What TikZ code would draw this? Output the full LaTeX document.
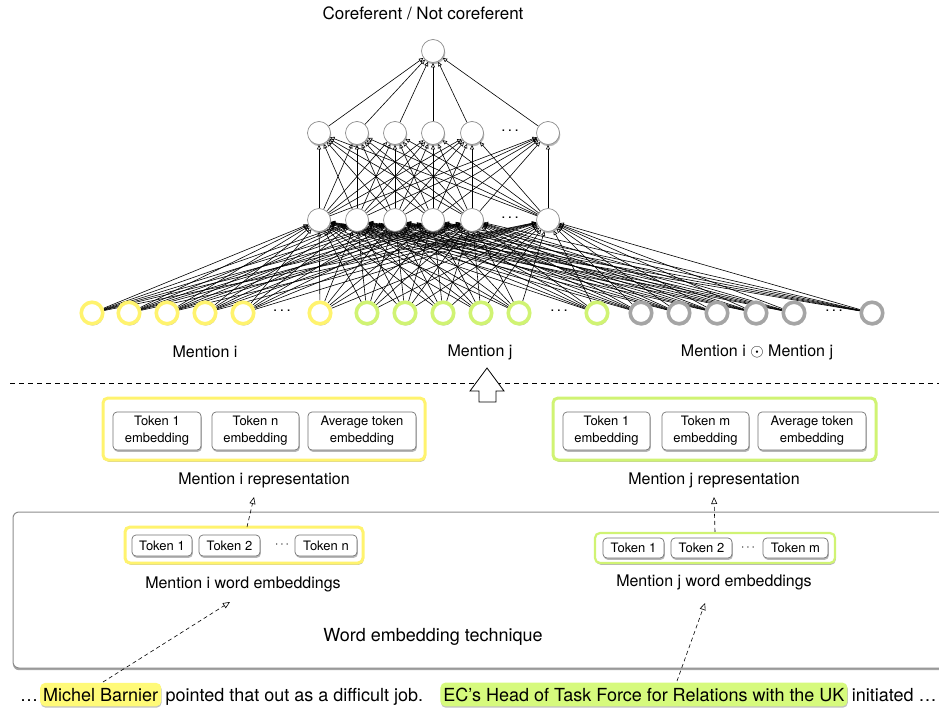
\documentclass[tikz,border=0pt]{standalone}
\usepackage{fontspec}
\setmainfont{TeX Gyre Heros}
\usetikzlibrary{arrows.meta,shadows,backgrounds}
\definecolor{ringyel}{RGB}{255,243,110}
\definecolor{ringgrn}{RGB}{208,243,115}
\definecolor{ringgry}{RGB}{165,165,165}
\definecolor{markyel}{RGB}{255,250,120}
\definecolor{markgrn}{RGB}{214,250,125}
\begin{document}
\begin{tikzpicture}[x=1pt,y=-1pt,
  softshadow/.style={drop shadow={shadow xshift=0.8pt,shadow yshift=-1.8pt,opacity=0.4,fill=black!70}},
  neuron/.style={circle,draw=black!45,fill=white,line width=0.7pt,minimum size=23pt,inner sep=0pt,softshadow},
  inp/.style={circle,fill=white,line width=3.6pt,minimum size=21.5pt,inner sep=0pt,softshadow},
  edge/.style={-{Triangle[open,length=4.5pt,width=4pt]},line width=0.6pt},
  lab/.style={font=\fontsize{16}{19}\selectfont},
  toplab/.style={font=\fontsize{17}{20}\selectfont},
  outerbox/.style={rectangle,rounded corners=5pt,line width=3pt,fill=white,inner sep=0pt,softshadow},
  tokbox/.style={rectangle,rounded corners=4pt,draw=black!55,line width=0.7pt,fill=white,inner sep=0pt,softshadow,align=center,font=\fontsize{13}{17}\selectfont},
  bigbox/.style={rectangle,rounded corners=6pt,draw=black!45,line width=1pt,fill=white,inner sep=0pt,
    drop shadow={shadow xshift=0pt,shadow yshift=-2.2pt,opacity=0.5,fill=black!70}},
  dasharrow/.style={dashed,dash pattern=on 4pt off 3pt,line width=0.6pt,-{Triangle[open,length=7pt,width=6pt]}},
  markbox/.style={rectangle,rounded corners=5pt,inner xsep=3pt,inner ysep=5pt,font=\fontsize{18}{21}\selectfont,
    drop shadow={shadow xshift=0.4pt,shadow yshift=-1.4pt,opacity=0.35,fill=black!70}},
  plain/.style={inner sep=0pt,font=\fontsize{18}{21}\selectfont},
  dots/.style={font=\fontsize{15}{18}\selectfont}
]
\useasboundingbox (0,0) rectangle (939,712);

% ---------- network ----------
\node[toplab] (title) at (423,13) {Coreferent / Not coreferent};
\node[neuron] (o) at (433,51) {};
\foreach \n/\x in {1/319,2/357,3/395,4/433,5/472,6/548} {
  \node[neuron] (q\n) at (\x,133) {};
  \node[neuron] (p\n) at (\x,220) {};
}
\node[dots] (qdots) at (510,131) {.\,.\,.};
\node[dots] (pdots) at (510,218) {.\,.\,.};

\foreach \n/\x in {1/92,2/129,3/167,4/205,5/243,6/320}
  \node[inp,draw=ringyel] (y\n) at (\x,313) {};
\foreach \n/\x in {1/367,2/405,3/443,4/481,5/519,6/597}
  \node[inp,draw=ringgrn] (g\n) at (\x,313) {};
\foreach \n/\x in {1/641,2/679,3/717,4/756,5/794,6/872}
  \node[inp,draw=ringgry] (r\n) at (\x,313) {};
\node[dots] (ydots) at (282,311) {.\,.\,.};
\node[dots] (gdots) at (559,311) {.\,.\,.};
\node[dots] (rdots) at (834,311) {.\,.\,.};

\begin{scope}[on background layer]
  \foreach \s in {y1,y2,y3,y4,y5,y6,g1,g2,g3,g4,g5,g6,r1,r2,r3,r4,r5,r6}
    \foreach \t in {p1,p2,p3,p4,p5,p6}
      \draw[edge] (\s) -- (\t);
  \foreach \s in {p1,p2,p3,p4,p5,p6}
    \foreach \t in {q1,q2,q3,q4,q5,q6}
      \draw[edge] (\s) -- (\t);
  \foreach \s in {q1,q2,q3,q4,q5,q6}
    \draw[edge] (\s) -- (o);
\end{scope}

\node[lab] (mi) at (205,352) {Mention i};
\node[lab] (mj) at (480,352) {Mention j};
\node[lab] (mij) at (757,352) {Mention i $\odot$ Mention j};

% ---------- separator and hollow arrow ----------
\coordinate (sepl) at (10,383);
\coordinate (sepr) at (939,383);
\draw[dashed,dash pattern=on 5pt off 4pt,line width=0.7pt] (sepl) -- (sepr);
\draw[fill=white,line width=0.8pt] (479,402) -- (479,391) -- (470,391) -- (487,368)
  -- (504,391) -- (496,391) -- (496,402) -- cycle;

% ---------- mention representations ----------
\node[outerbox,draw=ringyel,minimum width=322pt,minimum height=62pt] (ri) at (264,429) {};
\node[tokbox,minimum width=88pt,minimum height=38pt] (ri1) at (157,431) {Token 1\\embedding};
\node[tokbox,minimum width=87pt,minimum height=38pt] (ri2) at (255.5,431) {Token n\\embedding};
\node[tokbox,minimum width=108pt,minimum height=38pt] (ri3) at (362,431) {Average token\\embedding};
\node[lab] (rilab) at (264,480) {Mention i representation};

\node[outerbox,draw=ringgrn,minimum width=323pt,minimum height=62pt] (rj) at (714.5,429) {};
\node[tokbox,minimum width=87pt,minimum height=38pt] (rj1) at (606.5,431) {Token 1\\embedding};
\node[tokbox,minimum width=87pt,minimum height=38pt] (rj2) at (705.5,431) {Token m\\embedding};
\node[tokbox,minimum width=108pt,minimum height=38pt] (rj3) at (812,431) {Average token\\embedding};
\node[lab] (rjlab) at (714,480) {Mention j representation};

% ---------- word embedding technique ----------
\node[bigbox,minimum width=950pt,minimum height=156pt] (wet) at (488,590) {};
\node[font=\fontsize{18}{21}\selectfont] (wetlab) at (433,637) {Word embedding technique};

\node[outerbox,draw=ringyel,minimum width=238pt,minimum height=36pt] (wi) at (244,545) {};
\node[tokbox,minimum width=60pt,minimum height=21pt] (wi1) at (162,545.5) {Token 1};
\node[tokbox,minimum width=61pt,minimum height=21pt] (wi2) at (229.5,545.5) {Token 2};
\node[font=\fontsize{13}{16}\selectfont] (widots) at (282,545) {$\cdots$};
\node[tokbox,minimum width=62pt,minimum height=21pt] (win) at (326,545.5) {Token n};
\node[lab] (wilab) at (243,584) {Mention i word embeddings};

\node[outerbox,draw=ringgrn,line width=2.2pt,minimum width=240pt,minimum height=30pt] (wj) at (715,548) {};
\node[tokbox,minimum width=61pt,minimum height=20pt] (wj1) at (633.5,548) {Token 1};
\node[tokbox,minimum width=61pt,minimum height=20pt] (wj2) at (701.5,548) {Token 2};
\node[font=\fontsize{13}{16}\selectfont] (wjdots) at (748,548) {$\cdots$};
\node[tokbox,minimum width=65pt,minimum height=20pt] (wjm) at (795.5,548) {Token m};
\node[lab] (wjlab) at (714,582) {Mention j word embeddings};

% dashed links between stages
\coordinate (fromwi) at (247,527);
\coordinate (tipri) at (254,497);
\coordinate (tiprj) at (714,497);
\draw[dasharrow] (fromwi) -- (tipri);
\draw[dasharrow] (wj.north) -- (tiprj);

% ---------- sentence ----------
\node[plain,anchor=base west] (s0) at (20,701) {…};
\node[markbox,fill=markyel,anchor=base west] (mb) at (40,701) {Michel Barnier};
\node[plain,anchor=base west] (s1) at ([xshift=4pt]mb.base east) {pointed that out as a difficult job.};
\node[markbox,fill=markgrn,anchor=base west] (ec) at ([xshift=17pt]s1.base east) {EC’s Head of Task Force for Relations with the UK};
\node[plain,anchor=base west] (s2) at ([xshift=4pt]ec.base east) {initiated …};

\coordinate (frommb) at (103,682);
\coordinate (fromec) at (677,681);
\coordinate (tipwi) at (230,602);
\coordinate (tipwj) at (705,603);
\draw[dasharrow] (frommb) -- (tipwi);
\draw[dasharrow] (fromec) -- (tipwj);
\end{tikzpicture}
\end{document}
